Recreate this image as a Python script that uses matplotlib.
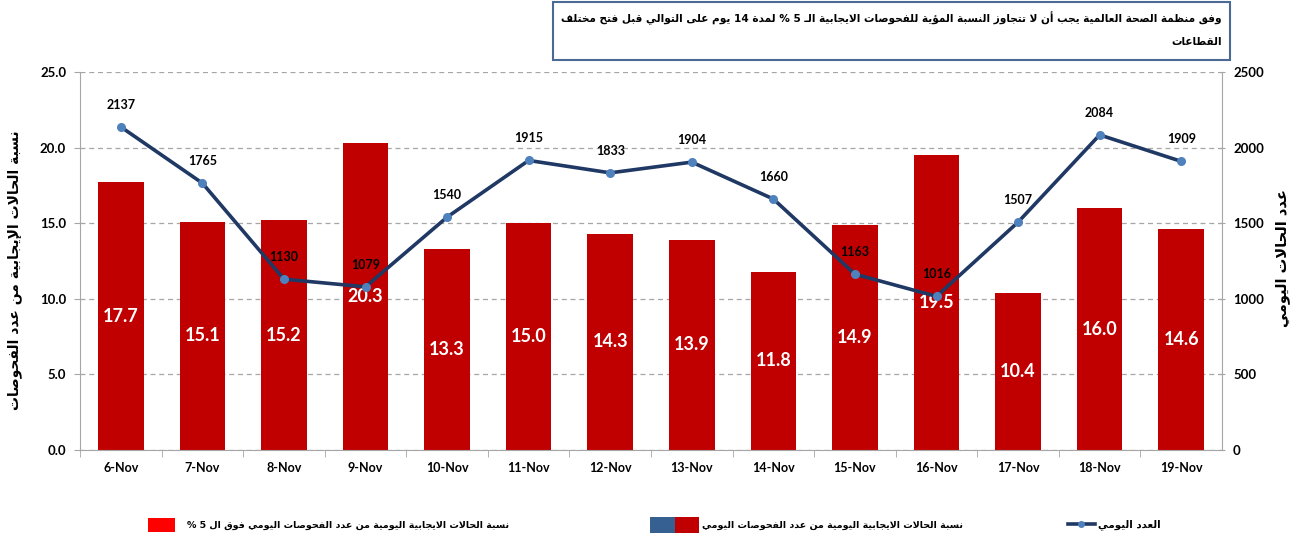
import re
import matplotlib
matplotlib.use("Agg")
import matplotlib.pyplot as plt
from matplotlib.patches import Patch, Rectangle
from matplotlib.lines import Line2D
from matplotlib.legend_handler import HandlerTuple

# data
days = ["6-Nov", "7-Nov", "8-Nov", "9-Nov", "10-Nov", "11-Nov", "12-Nov",
        "13-Nov", "14-Nov", "15-Nov", "16-Nov", "17-Nov", "18-Nov", "19-Nov"]
pct_positive = [17.7, 15.1, 15.2, 20.3, 13.3, 15.0, 14.3, 13.9, 11.8, 14.9, 19.5, 10.4, 16.0, 14.6]
daily_cases = [2137, 1765, 1130, 1079, 1540, 1915, 1833, 1904, 1660, 1163, 1016, 1507, 2084, 1909]

title_lines = ["وفق منظمة الصحة العالمية يجب أن لا تتجاوز النسبة المؤية للفحوصات الايجابية الـ 5 % لمدة 14 يوم على التوالي قبل فتح مختلف",
               "القطاعات"]
left_label = "نسبة الحالات الإيجابية من عدد الفحوصات"
right_label = "عدد الحالات اليومي"
leg_above5 = "نسبة الحالات الايجابية اليومية من عدد الفحوصات اليومي فوق ال 5 %"
leg_pct = "نسبة الحالات الايجابية اليومية من عدد الفحوصات اليومي"
leg_daily = "العدد اليومي"


# matplotlib has no arabic shaping: use presentation forms + reverse
FORMS = {
    'ء': (0xFE80, 1), 'آ': (0xFE81, 2), 'أ': (0xFE83, 2), 'ؤ': (0xFE85, 2),
    'إ': (0xFE87, 2), 'ئ': (0xFE89, 4), 'ا': (0xFE8D, 2), 'ب': (0xFE8F, 4),
    'ة': (0xFE93, 2), 'ت': (0xFE95, 4), 'ث': (0xFE99, 4), 'ج': (0xFE9D, 4),
    'ح': (0xFEA1, 4), 'خ': (0xFEA5, 4), 'د': (0xFEA9, 2), 'ذ': (0xFEAB, 2),
    'ر': (0xFEAD, 2), 'ز': (0xFEAF, 2), 'س': (0xFEB1, 4), 'ش': (0xFEB5, 4),
    'ص': (0xFEB9, 4), 'ض': (0xFEBD, 4), 'ط': (0xFEC1, 4), 'ظ': (0xFEC5, 4),
    'ع': (0xFEC9, 4), 'غ': (0xFECD, 4), 'ف': (0xFED1, 4), 'ق': (0xFED5, 4),
    'ك': (0xFED9, 4), 'ل': (0xFEDD, 4), 'م': (0xFEE1, 4), 'ن': (0xFEE5, 4),
    'ه': (0xFEE9, 4), 'و': (0xFEED, 2), 'ى': (0xFEEF, 2), 'ي': (0xFEF1, 4),
}
LAM_ALEF = {'آ': 0xFEF5, 'أ': 0xFEF7, 'إ': 0xFEF9, 'ا': 0xFEFB}


def ar(text):
    items = []
    i = 0
    while i < len(text):
        c = text[i]
        if c == 'ل' and i + 1 < len(text) and text[i + 1] in LAM_ALEF:
            items.append((None, LAM_ALEF[text[i + 1]], 2))
            i += 2
            continue
        if c in FORMS:
            items.append((c, FORMS[c][0], FORMS[c][1]))
        elif c == 'ـ':
            items.append((c, None, 4))
        else:
            items.append((c, None, 0))
        i += 1
    out = []
    for k, (c, base, n) in enumerate(items):
        if base is None:
            out.append(c)
            continue
        prev_j = k > 0 and items[k - 1][2] == 4
        next_j = n == 4 and k + 1 < len(items) and items[k + 1][2] >= 2
        if n == 1:
            f = 0
        elif n == 2:
            f = 1 if prev_j else 0
        else:
            f = {(False, False): 0, (True, False): 1, (False, True): 2, (True, True): 3}[(prev_j, next_j)]
        out.append(chr(base + f))
    s = "".join(out)[::-1]
    return re.sub(r"[0-9]+", lambda m: m.group(0)[::-1], s)


AR_FONT = ["DejaVu Sans"]
NUM_FONT = ["Lato", "DejaVu Sans"]
DARK_RED = "#C00000"
NAVY = "#1F3864"

fig = plt.figure(figsize=(12.98, 5.44), dpi=100)
ax = fig.add_axes([80 / 1298, 1 - 450 / 544, 1142 / 1298, 378 / 544])
ax2 = ax.twinx()

x = list(range(len(days)))
bars = ax.bar(x, pct_positive, width=0.56, color=DARK_RED, zorder=2)
for xi, v in zip(x, pct_positive):
    ax.text(xi, v / 2, "%.1f" % v, ha="center", va="center", color="white",
            fontsize=13, fontweight="bold", family=NUM_FONT, zorder=3)

ax.set_xlim(-0.5, len(days) - 0.5)
ax.set_ylim(0, 25)
ax.set_yticks([0, 5, 10, 15, 20, 25])
ax.set_yticklabels(["%.1f" % t for t in [0, 5, 10, 15, 20, 25]])
ax.yaxis.grid(True, linestyle=(0, (4, 3)), color="#A6A6A6", linewidth=0.9, zorder=0)
ax.set_axisbelow(True)
ax.set_xticks(x)
ax.set_xticklabels(days)
ax.set_xticks([i + 0.5 for i in x[:-1]] + [-0.5], minor=True)
ax.tick_params(axis="x", which="major", length=0, pad=9, labelsize=9)
ax.tick_params(axis="x", which="minor", length=5, color="#A6A6A6", direction="out")
ax.tick_params(axis="y", length=4, color="#A6A6A6", labelsize=9.5, pad=6)
for lab in ax.get_xticklabels() + ax.get_yticklabels():
    lab.set_family(NUM_FONT)
    lab.set_fontweight("bold")
for s in ["top", "right"]:
    ax.spines[s].set_visible(False)
ax.spines["left"].set_color("#A6A6A6")
ax.spines["bottom"].set_color("#A6A6A6")

ax2.plot(x, daily_cases, color=NAVY, linewidth=2.6, marker="o", markersize=5.5,
         markerfacecolor="#4F81BD", markeredgecolor="#4F81BD", zorder=4)
for xi, v in zip(x, daily_cases):
    ax2.annotate(str(v), (xi, v), xytext=(0, 16), textcoords="offset points",
                 ha="center", va="center", fontsize=9, fontweight="bold", family=NUM_FONT)
ax2.set_ylim(0, 2500)
ax2.set_yticks([0, 500, 1000, 1500, 2000, 2500])
ax2.tick_params(axis="y", length=4, color="#A6A6A6", labelsize=9.5, pad=6, direction="inout")
for lab in ax2.get_yticklabels():
    lab.set_family(NUM_FONT)
    lab.set_fontweight("bold")
for s in ["top", "left", "bottom"]:
    ax2.spines[s].set_visible(False)
ax2.spines["right"].set_color("#A6A6A6")

# axis titles
fig.text(15 / 1298, 1 - 270 / 544, ar(left_label), rotation=90, ha="center", va="center",
         fontsize=10, fontweight="bold", family=AR_FONT)
fig.text(1283 / 1298, 1 - 258 / 544, ar(right_label), rotation=90, ha="center", va="center",
         fontsize=10.5, fontweight="bold", family=AR_FONT)

# title box
fig.add_artist(Rectangle((553 / 1298, 1 - 60 / 544), 677 / 1298, 58 / 544,
                         transform=fig.transFigure, facecolor="white",
                         edgecolor="#4A6A93", linewidth=1.5))
for line, ypx in zip(title_lines, [18, 42]):
    fig.text(1222 / 1298, 1 - ypx / 544, ar(line), ha="right", va="center",
             fontsize=7.6, fontweight="bold", family=AR_FONT)

# legend
leg_y = 1 - 525 / 544
common = dict(loc="center left", frameon=False, borderpad=0, borderaxespad=0,
              handletextpad=1.2, prop={"family": AR_FONT, "weight": "bold", "size": 6.8})
l1 = fig.legend([Patch(facecolor="#FF0000")], [ar(leg_above5)],
                bbox_to_anchor=(148 / 1298, leg_y), handlelength=2.9, handleheight=2.0, **common)
common["handletextpad"] = 0.3
l2 = fig.legend([(Patch(facecolor="#376092"), Patch(facecolor=DARK_RED))], [ar(leg_pct)],
                handler_map={tuple: HandlerTuple(ndivide=None, pad=0)},
                bbox_to_anchor=(650 / 1298, leg_y), handlelength=5.2, handleheight=2.2, **common)
common["prop"] = {"family": AR_FONT, "weight": "bold", "size": 7.4}
l3 = fig.legend([Line2D([], [], color=NAVY, linewidth=2.6, marker="o", markersize=4,
                        markerfacecolor="#4F81BD", markeredgecolor="#4F81BD")], [ar(leg_daily)],
                bbox_to_anchor=(1068 / 1298, leg_y), handlelength=2.6, **common)

fig.savefig("out.png", dpi=100)
